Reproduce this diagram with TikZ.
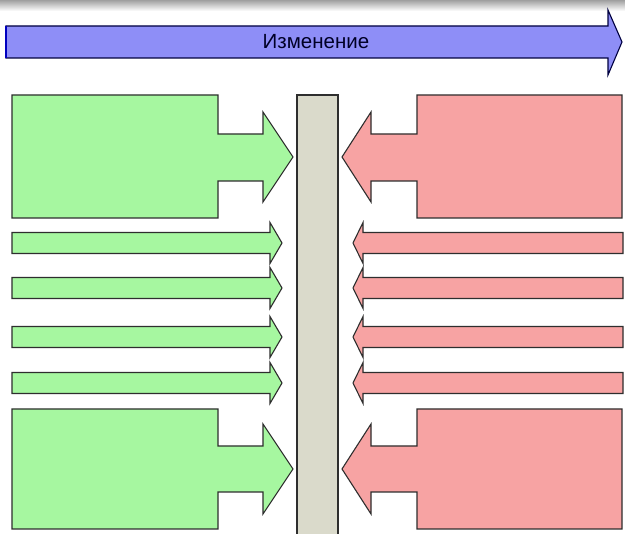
\documentclass[tikz,border=0pt]{standalone}
\usepackage{fontspec}
\setmainfont{Liberation Sans}
\definecolor{grn}{HTML}{A6F7A0}
\definecolor{rd}{HTML}{F7A3A3}
\definecolor{barc}{HTML}{DADACB}
\definecolor{blu}{HTML}{8E8EF7}
\definecolor{edge}{HTML}{2E2E2E}
\begin{document}
\begin{tikzpicture}[x=1pt,y=-1pt,
  shp/.style={draw=edge, line width=1.1pt, line join=miter},
  gshp/.style={shp, fill=grn},
  rshp/.style={shp, fill=rd}]
\useasboundingbox (0,0) rectangle (625,534);
\fill[white] (0,0) rectangle (625,534);
\shade[top color=gray!75, bottom color=white] (0,0) rectangle (625,11);
% top blue arrow
\draw[shp, draw=blue!25!black, fill=blu] (6,26) -- (608,26) -- (608,10) -- (622,42) -- (608,75) -- (608,58) -- (6,58) -- cycle;
\draw[blue!75!black, line width=2.2pt] (6,26) -- (6,58);
\node[text=black!85!blue, font=\fontsize{20.5}{24}\selectfont] (lbl) at (316,42) {Изменение};
% central bar
\draw[shp, fill=barc] (297,95) rectangle (338,540);
% big arrows
\draw[gshp] (12,95) -- (218,95) -- (218,134) -- (263,134) -- (263,112) -- (293,157) -- (263,202) -- (263,181) -- (218,181) -- (218,218) -- (12,218) -- cycle;
\draw[rshp] (622,95) -- (417,95) -- (417,134) -- (371,134) -- (371,112) -- (342,157) -- (371,202) -- (371,181) -- (417,181) -- (417,218) -- (622,218) -- cycle;
\draw[gshp] (12,409) -- (218,409) -- (218,446) -- (263,446) -- (263,424) -- (293,469) -- (263,514) -- (263,492) -- (218,492) -- (218,529) -- (12,529) -- cycle;
\draw[rshp] (622,409) -- (417,409) -- (417,446) -- (371,446) -- (371,424) -- (342,469) -- (371,514) -- (371,492) -- (417,492) -- (417,529) -- (622,529) -- cycle;
% thin arrows
\foreach \c in {243,288,337,383}{
  \draw[gshp] (12,\c-10.5) -- (270,\c-10.5) -- (270,\c-20.5) -- (282,\c) -- (270,\c+20.5) -- (270,\c+10.5) -- (12,\c+10.5) -- cycle;
  \draw[rshp] (623,\c-10.5) -- (363,\c-10.5) -- (363,\c-20.5) -- (353,\c) -- (363,\c+20.5) -- (363,\c+10.5) -- (623,\c+10.5) -- cycle;
}
\end{tikzpicture}
\end{document}
